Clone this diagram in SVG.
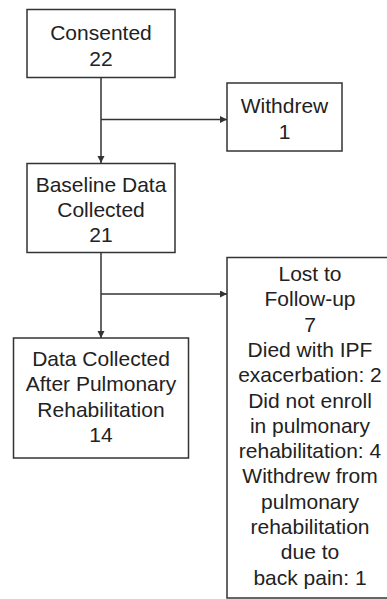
<svg xmlns="http://www.w3.org/2000/svg" width="387" height="599" viewBox="0 0 387 599">
<style>
.box{fill:#fff;stroke:#333;stroke-width:1.5}
.t{font-family:"Liberation Sans",Arial,sans-serif;font-size:21px;fill:#222;text-anchor:middle}
.c{stroke:#333;stroke-width:1.5;fill:none}
</style>
<defs>
<marker id="ah" markerWidth="8" markerHeight="8" refX="7" refY="3.5" orient="auto" markerUnits="userSpaceOnUse">
<path d="M0,0 L7,3.5 L0,7 Z" fill="#333"/>
</marker>
</defs>
<rect width="387" height="599" fill="#fff"/>
<g id="connectors">
<line class="c" x1="101" y1="77" x2="101" y2="163" marker-end="url(#ah)"/>
<line class="c" x1="101" y1="119.5" x2="227" y2="119.5" marker-end="url(#ah)"/>
<line class="c" x1="101" y1="252" x2="101" y2="338" marker-end="url(#ah)"/>
<line class="c" x1="101" y1="294" x2="227" y2="294" marker-end="url(#ah)"/>
</g>
<g id="consented">
<rect class="box" x="27" y="9.5" width="148" height="68"/>
<text class="t" x="101" y="40">Consented</text>
<text class="t" x="101" y="65.5">22</text>
</g>
<g id="withdrew">
<rect class="box" x="227" y="83" width="115" height="68"/>
<text class="t" x="284.5" y="113">Withdrew</text>
<text class="t" x="284.5" y="138.5">1</text>
</g>
<g id="baseline">
<rect class="box" x="27" y="163.5" width="148" height="89"/>
<text class="t" x="101" y="191.5">Baseline Data</text>
<text class="t" x="101" y="217">Collected</text>
<text class="t" x="101" y="242">21</text>
</g>
<g id="after">
<rect class="box" x="13.5" y="338" width="175" height="120"/>
<text class="t" x="101" y="366">Data Collected</text>
<text class="t" x="101" y="391.3">After Pulmonary</text>
<text class="t" x="101" y="416.6">Rehabilitation</text>
<text class="t" x="101" y="442">14</text>
</g>
<g id="lost">
<rect class="box" x="227" y="257.5" width="168" height="340.5"/>
<text class="t" x="310" y="281">Lost to</text>
<text class="t" x="310" y="306.3">Follow-up</text>
<text class="t" x="310" y="331.6">7</text>
<text class="t" x="310" y="356.9">Died with IPF</text>
<text class="t" x="310" y="382.2">exacerbation: 2</text>
<text class="t" x="310" y="407.5">Did not enroll</text>
<text class="t" x="310" y="432.8">in pulmonary</text>
<text class="t" x="310" y="458.1">rehabilitation: 4</text>
<text class="t" x="310" y="483.4">Withdrew from</text>
<text class="t" x="310" y="508.7">pulmonary</text>
<text class="t" x="310" y="534">rehabilitation</text>
<text class="t" x="310" y="559.3">due to</text>
<text class="t" x="310" y="584.6">back pain: 1</text>
</g>
</svg>
